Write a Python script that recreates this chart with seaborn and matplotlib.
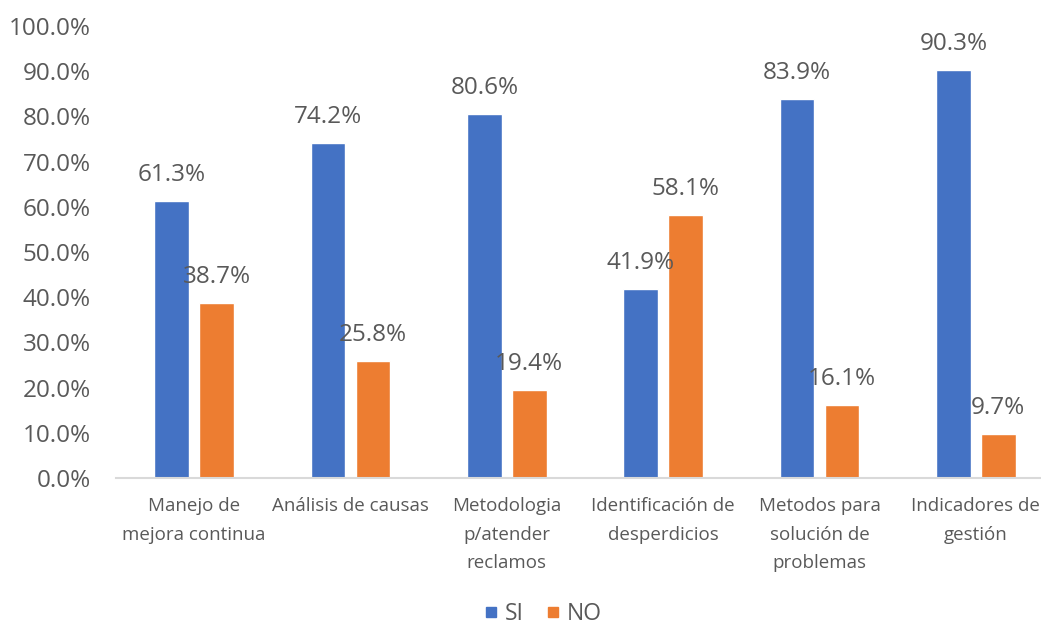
import matplotlib
matplotlib.use("Agg")
import matplotlib.pyplot as plt
from matplotlib.ticker import PercentFormatter
from matplotlib.lines import Line2D
import seaborn as sns
import pandas as pd

categories = [
    "Manejo de\nmejora continua",
    "Análisis de causas",
    "Metodologia\np/atender\nreclamos",
    "Identificación de\ndesperdicios",
    "Metodos para\nsolución de\nproblemas",
    "Indicadores de\ngestión",
]
si_values = [61.3, 74.2, 80.6, 41.9, 83.9, 90.3]
no_values = [38.7, 25.8, 19.4, 58.1, 16.1, 9.7]
series_names = ["SI", "NO"]
y_ticks = [0, 10, 20, 30, 40, 50, 60, 70, 80, 90, 100]

blue = "#4472C4"
orange = "#ED7D31"
text_color = "#595959"

df = pd.DataFrame({
    "categoria": categories * 2,
    "serie": [series_names[0]] * len(categories) + [series_names[1]] * len(categories),
    "valor": si_values + no_values,
})

sns.set_style("white")
plt.rcParams["font.family"] = ["Open Sans", "DejaVu Sans"]

fig = plt.figure(figsize=(10.41, 6.25), dpi=100)
ax = fig.add_axes([116 / 1041, 147 / 625, 938 / 1041, 452 / 625])

sns.barplot(
    data=df, x="categoria", y="valor", hue="serie",
    order=categories, hue_order=series_names,
    palette=[blue, orange], width=0.576, gap=0.236,
    saturation=1, errorbar=None, ax=ax, legend=False,
)

for container in ax.containers:
    ax.bar_label(container, fmt="%.1f%%", padding=10,
                 fontsize=17.5, color=text_color)

ax.set_xlim(-0.5, len(categories) - 0.5)
ax.set_ylim(0, 100)
ax.set_yticks(y_ticks)
ax.yaxis.set_major_formatter(PercentFormatter(100, decimals=1))
ax.tick_params(axis="y", length=0, pad=18, labelsize=17.5, labelcolor=text_color)
ax.tick_params(axis="x", length=0, pad=14, labelsize=13.5, labelcolor=text_color)
for lbl in ax.get_xticklabels():
    lbl.set_linespacing(1.75)

ax.set_xlabel("")
ax.set_ylabel("")
for side in ["left", "right", "top"]:
    ax.spines[side].set_visible(False)
ax.spines["bottom"].set_color("#D9D9D9")
ax.spines["bottom"].set_linewidth(1.5)

handles = [
    Line2D([], [], marker="s", linestyle="", markersize=7, color=blue),
    Line2D([], [], marker="s", linestyle="", markersize=7, color=orange),
]
fig.legend(handles, series_names, loc="center", bbox_to_anchor=(543 / 1041, 1 - 614 / 625),
           ncol=2, frameon=False, fontsize=16.5, handlelength=0.6, handletextpad=0.3,
           columnspacing=1.0, labelcolor=text_color)

fig.savefig("out.png", dpi=100)
